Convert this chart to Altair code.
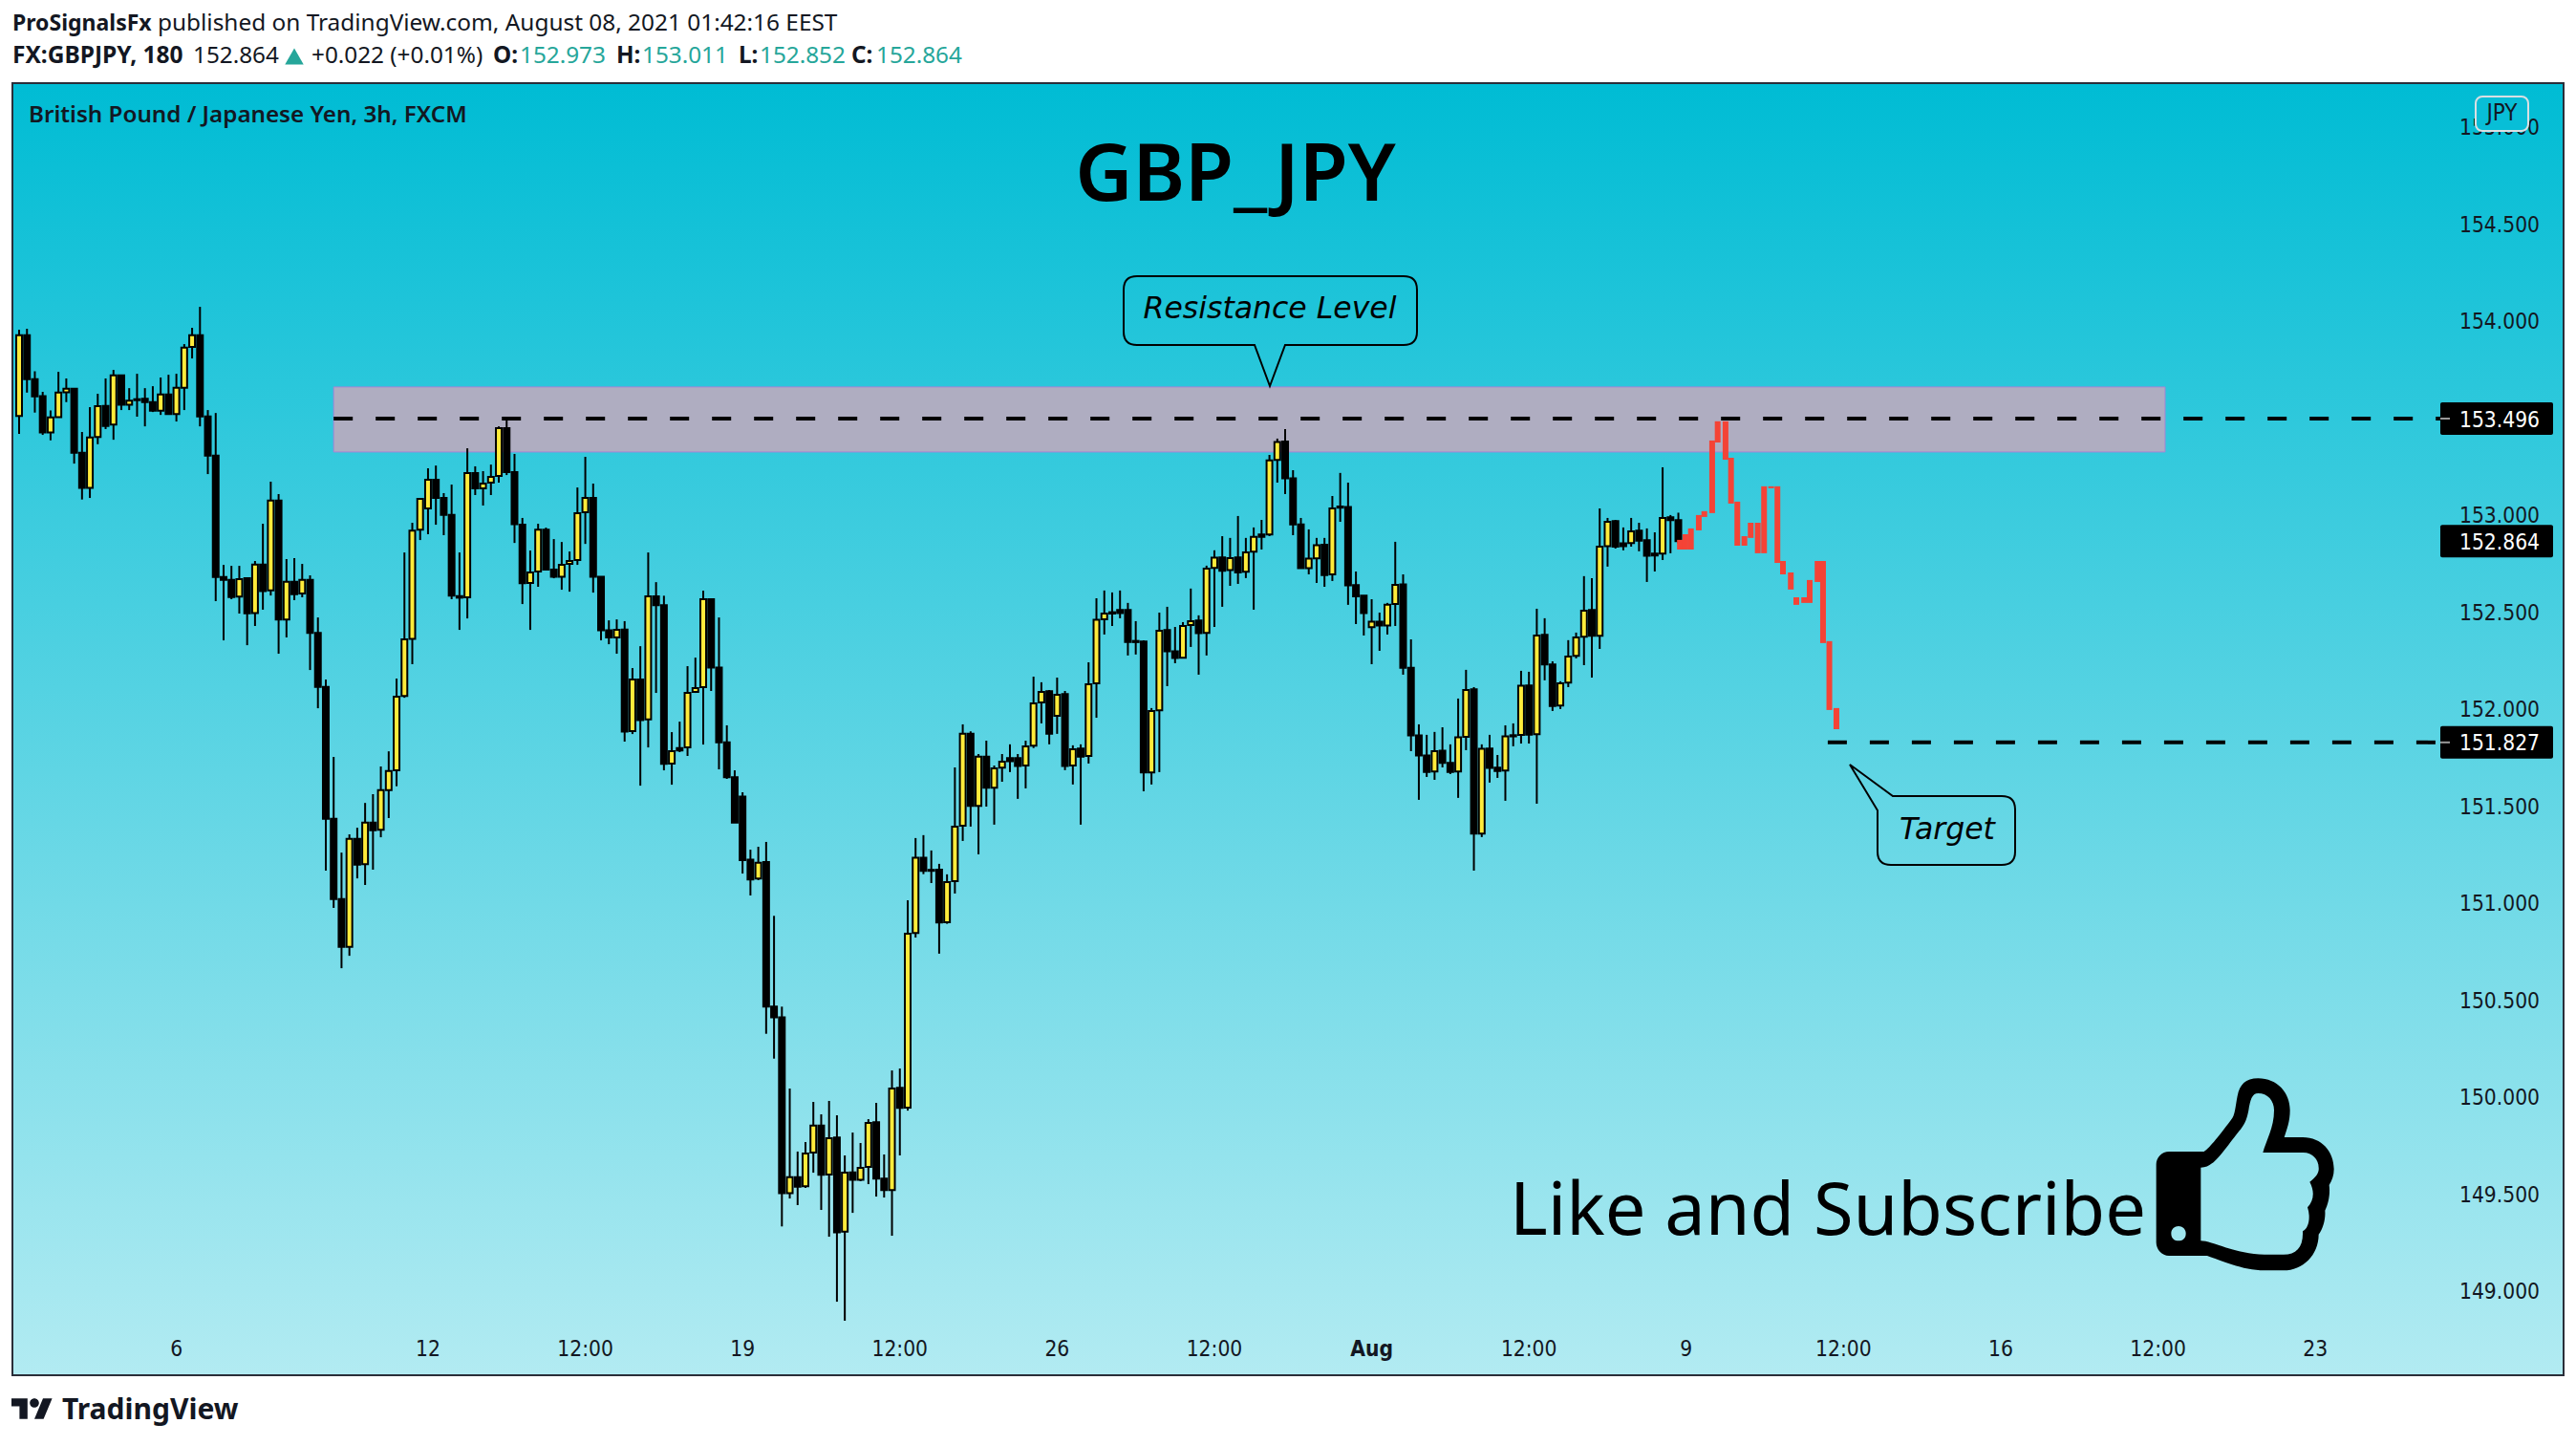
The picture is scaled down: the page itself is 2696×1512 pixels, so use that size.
import re
import altair as alt
import pandas as pd

opens = [
153.509,153.926,153.699,153.612,153.425,153.504,153.632,153.650,153.320,153.139,
153.401,153.561,153.465,153.719,153.568,153.596,153.598,153.581,153.537,153.621,
153.519,153.655,153.865,153.926,153.507,153.305,152.680,152.665,152.578,152.673,
152.494,152.744,152.611,153.074,152.460,152.655,152.594,152.665,152.391,152.113,
151.433,151.020,150.773,151.330,151.199,151.414,151.376,151.581,151.683,152.066,
152.361,152.924,153.033,153.181,153.087,153.000,152.581,152.575,153.215,153.136,
153.166,153.200,153.447,153.220,152.949,152.649,152.708,152.924,152.718,152.681,
152.747,152.767,153.013,153.087,152.681,152.405,152.368,152.409,151.885,152.151,
151.946,152.580,152.534,151.718,151.798,151.801,152.087,152.112,152.565,152.213,
151.827,151.647,151.548,151.223,151.125,151.210,150.465,150.410,149.504,149.586,
149.539,149.713,149.852,149.599,149.790,149.305,149.611,149.573,149.639,149.869,
149.578,149.519,150.046,149.944,150.844,151.232,151.170,151.171,150.900,151.112,
151.398,151.872,151.500,151.754,151.593,151.697,151.746,151.746,151.708,151.810,
152.033,152.091,151.964,152.076,151.708,151.795,151.757,152.132,152.462,152.498,
152.509,152.509,152.350,152.347,151.672,151.992,152.406,152.296,152.263,152.432,
152.455,152.391,152.726,152.780,152.715,152.780,152.707,152.810,152.899,152.899,
153.283,153.378,153.188,152.951,152.725,152.776,152.846,152.693,153.037,153.041,
152.638,152.583,152.421,152.449,152.429,152.541,152.641,152.212,151.863,151.759,
151.677,151.784,151.721,151.677,151.856,152.101,151.357,151.795,151.697,151.682,
151.864,151.866,152.120,151.869,152.381,152.229,152.017,152.135,152.273,152.372,
152.509,152.376,152.839,152.968,152.853,152.854,152.918,152.869,152.800,152.800,
152.987,152.973,
]
closes = [
153.926,153.699,153.611,153.425,153.502,153.630,153.650,153.320,153.139,153.399,
153.560,153.458,153.719,153.568,153.589,153.591,153.581,153.537,153.621,153.519,
153.655,153.862,153.926,153.507,153.305,152.680,152.665,152.576,152.668,152.492,
152.744,152.607,153.074,152.460,152.655,152.591,152.665,152.391,152.113,151.433,
151.020,150.773,151.330,151.197,151.414,151.374,151.581,151.680,152.062,152.358,
152.919,153.082,153.181,153.087,153.000,152.583,152.573,153.215,153.136,153.161,
153.195,153.447,153.220,152.952,152.647,152.703,152.924,152.718,152.681,152.742,
152.762,153.008,153.087,152.681,152.405,152.368,152.407,151.883,152.151,151.942,
152.580,152.534,151.716,151.782,151.785,152.082,152.107,152.565,152.213,151.827,
151.647,151.414,151.220,151.121,151.207,150.465,150.410,149.504,149.586,149.537,
149.708,149.852,149.598,149.787,149.302,149.609,149.573,149.634,149.865,149.578,
149.519,150.043,149.943,150.841,151.232,151.165,151.165,150.899,151.107,151.393,
151.872,151.500,151.753,151.593,151.693,151.728,151.730,151.705,151.807,152.028,
152.087,151.872,152.073,151.705,151.792,151.754,152.127,152.459,152.491,152.491,
152.493,152.345,152.344,151.672,151.989,152.403,152.296,152.262,152.427,152.452,
152.390,152.723,152.779,152.711,152.777,152.703,152.807,152.887,152.887,153.281,
153.375,153.188,152.951,152.725,152.774,152.843,152.690,153.033,153.043,152.636,
152.580,152.493,152.449,152.429,152.537,152.639,152.212,151.863,151.759,151.675,
151.782,151.721,151.675,151.853,152.097,151.357,151.794,151.695,151.680,151.858,
151.858,152.119,151.867,152.378,152.229,152.014,152.132,152.270,152.368,152.506,
152.376,152.836,152.964,152.836,152.838,152.915,152.867,152.789,152.790,152.984,
152.973,152.864,
]
highs = [
153.954,153.959,153.740,153.634,153.538,153.737,153.703,153.650,153.427,153.555,
153.624,153.703,153.747,153.719,153.653,153.727,153.653,153.663,153.708,153.722,
153.727,153.880,153.964,154.072,153.540,153.525,152.742,152.737,152.737,152.673,
152.762,152.954,153.171,153.107,152.772,152.777,152.747,152.688,152.471,152.151,
151.752,151.259,151.353,151.387,151.515,151.560,151.703,151.781,152.156,152.806,
152.959,153.087,153.240,153.254,153.112,153.156,152.806,153.343,153.250,153.225,
153.259,153.456,153.486,153.314,152.984,152.816,152.954,152.934,152.875,152.860,
152.811,153.141,153.299,153.161,152.681,152.456,152.461,152.452,152.210,152.323,
152.806,152.653,152.583,151.880,151.934,152.220,152.264,152.609,152.565,152.471,
151.915,151.683,151.570,151.274,151.289,151.314,150.933,150.465,150.043,149.718,
149.767,149.974,149.910,149.979,149.905,149.698,149.816,149.762,149.885,149.969,
149.703,150.136,150.146,151.013,151.334,151.349,151.270,151.201,151.147,151.698,
151.920,151.884,151.767,151.836,151.708,151.767,151.817,151.767,151.836,152.166,
152.137,152.097,152.161,152.092,151.812,151.817,152.240,152.570,152.610,152.600,
152.610,152.546,152.452,152.353,152.004,152.496,152.526,152.422,152.447,152.620,
152.482,152.738,152.817,152.890,152.881,152.994,152.881,152.935,152.974,153.309,
153.393,153.442,153.230,152.984,152.925,152.881,152.881,153.097,153.216,153.166,
152.708,152.585,152.565,152.496,152.546,152.861,152.693,152.358,151.920,151.866,
151.881,151.905,151.817,152.053,152.201,152.112,151.817,151.866,151.762,151.915,
151.925,152.196,152.191,152.516,152.467,152.245,152.142,152.354,152.393,152.684,
152.674,153.033,152.984,152.974,152.935,152.984,152.959,152.930,152.910,153.245,
152.999,153.011,
]
lows = [
153.417,153.630,153.527,153.412,153.384,153.504,153.581,153.264,153.079,153.087,
153.364,153.442,153.387,153.540,153.540,153.506,153.456,153.530,153.515,153.519,
153.481,153.540,153.806,153.456,153.210,152.555,152.353,152.565,152.491,152.328,
152.427,152.511,152.584,152.284,152.368,152.560,152.575,152.200,152.003,151.166,
150.974,150.663,150.727,151.126,151.092,151.171,151.338,151.437,151.601,152.057,
152.230,152.870,152.900,152.949,152.895,152.565,152.407,152.466,153.102,153.048,
153.102,153.166,153.205,152.855,152.540,152.407,152.629,152.713,152.673,152.614,
152.604,152.742,152.850,152.599,152.353,152.333,152.284,151.831,151.870,151.604,
151.801,152.082,151.683,151.609,151.777,151.757,152.082,151.816,152.092,151.688,
151.639,151.414,151.151,151.038,151.117,150.325,150.197,149.332,149.476,149.442,
149.530,149.609,149.417,149.279,148.944,148.846,149.402,149.565,149.550,149.486,
149.481,149.284,149.698,149.929,150.821,151.148,151.102,150.738,150.892,151.048,
151.319,151.393,151.250,151.496,151.403,151.624,151.674,151.536,151.590,151.798,
151.925,151.817,151.871,151.684,151.610,151.403,151.718,151.954,152.383,152.427,
152.467,152.275,152.280,151.575,151.610,151.674,152.117,152.235,152.319,152.319,
152.176,152.275,152.422,152.526,152.634,152.644,152.674,152.511,152.821,152.890,
153.166,153.107,152.895,152.725,152.693,152.649,152.629,152.659,152.964,152.536,
152.437,152.378,152.230,152.299,152.383,152.427,152.176,151.782,151.531,151.649,
151.634,151.698,151.664,151.541,151.787,151.166,151.339,151.620,151.644,151.526,
151.807,151.821,151.821,151.511,152.147,151.989,151.999,152.112,152.260,152.225,
152.161,152.309,152.733,152.826,152.817,152.836,152.812,152.654,152.708,152.767,
152.802,152.852,
]
red_x = [211.2,211.9,212.6,213.6,214.3,215.3,216.0,217.0,217.7,218.5,219.4,220.2,221.1,
         221.9,222.8,223.6,224.3,225.3,226.0,227.0,227.7,228.7,229.4,230.2,231.1]
red_top = [152.871,152.900,152.930,152.999,153.019,153.383,153.482,153.482,153.294,153.068,
           152.890,152.959,152.959,153.147,153.147,153.147,152.762,152.703,152.575,152.575,
           152.664,152.762,152.762,152.349,152.004]
red_bot = [152.821,152.821,152.821,152.920,152.989,153.009,153.373,153.284,153.058,152.841,
           152.841,152.881,152.802,152.802,153.137,152.752,152.693,152.615,152.536,152.546,
           152.546,152.654,152.339,151.994,151.895]

y_ticks = [149.0,149.5,150.0,150.5,151.0,151.5,152.0,152.5,153.0,153.5,154.0,154.5,155.0]
x_ticks = [20,52,72,92,112,132,152,172,192,212,232,252,272,292]
x_labels = ["6","12","12:00","19","12:00","26","12:00","Aug","12:00","9","12:00","16","12:00","23"]
zone = {"x": [40.0], "x2": [272.9], "top": [153.659], "bot": [153.324]}
line_x = [40.0, 230.0]
line_y = [153.496, 151.827]
line_end = 309.1
price_tags = [153.496, 152.864, 151.827]

W, H = 2670, 1352
X0, Y0 = 13, 87
BAR = 8.23
FX0 = 20
PX = 203.0
INK = "#131722"
HEAD = "Noto Sans"
AX = "DejaVu Sans Condensed"
AXS = 22.6

def xi(px): return (px - FX0) / BAR
def pr(py): return 154 - (py - 335.7) / PX

xs = alt.Scale(domain=[xi(X0), xi(X0 + W)], nice=False, zero=False, padding=0)
ys = alt.Scale(domain=[pr(Y0 + H), pr(Y0)], nice=False, zero=False, padding=0)
def X(f): return alt.X(f, scale=xs, title=None, axis=None)
def Y(f): return alt.Y(f, scale=ys, title=None, axis=None)

one = pd.DataFrame({"a": [1]})
candles = pd.DataFrame({"i": range(len(opens)), "o": opens, "c": closes, "h": highs, "l": lows})
candles["kind"] = ["up" if c > o else "down" for o, c in zip(opens, closes)]
reds = pd.DataFrame({"i": red_x, "t": red_top, "b": red_bot})

bg = alt.Chart(one).mark_rect(
    fill=alt.Gradient(gradient="linear", x1=0, x2=0, y1=0, y2=1,
                      stops=[alt.GradientStop(color="#00BCD4", offset=0),
                             alt.GradientStop(color="#B2EBF2", offset=1)])
).encode(x=alt.value(0), x2=alt.value(W), y=alt.value(0), y2=alt.value(H))

y_tick_df = pd.DataFrame({"p": y_ticks, "t": [f"{v:.3f}" for v in y_ticks]})
y_labels = alt.Chart(y_tick_df).mark_text(font=AX, fontSize=AXS, color=INK, align="right", baseline="middle", dy=1.5).encode(
    x=alt.value(2658 - X0), y=Y("p:Q"), text="t:N")
x_tick_df = pd.DataFrame({"i": x_ticks, "t": x_labels})
x_plain = alt.Chart(x_tick_df[x_tick_df["t"] != "Aug"]).mark_text(
    font=AX, fontSize=AXS, color=INK, align="center", baseline="alphabetic").encode(
    x=X("i:Q"), y=alt.value(1419 - Y0), text="t:N")
x_bold = alt.Chart(x_tick_df[x_tick_df["t"] == "Aug"]).mark_text(
    font=AX, fontSize=AXS, color=INK, fontWeight="bold", align="center", baseline="alphabetic").encode(
    x=X("i:Q"), y=alt.value(1419 - Y0), text="t:N")

zone_l = alt.Chart(pd.DataFrame(zone)).mark_rect(fill="#AFADC1", stroke="#A584D6", strokeWidth=1).encode(
    x=X("x:Q"), x2="x2:Q", y=Y("top:Q"), y2="bot:Q")
wicks = alt.Chart(candles).mark_rule(color="#000000", strokeWidth=2).encode(
    x=X("i:Q"), y=Y("h:Q"), y2="l:Q")
bodies = alt.Chart(candles).mark_bar(size=6, stroke="#000000", strokeWidth=2).encode(
    x=X("i:Q"), y=Y("o:Q"), y2="c:Q",
    fill=alt.Fill("kind:N", legend=None, scale=alt.Scale(domain=["up", "down"], range=["#FFEB3B", "#000000"])))
red = alt.Chart(reds).mark_bar(size=6, color="#F44336").encode(x=X("i:Q"), y=Y("t:Q"), y2="b:Q")

levels = alt.Chart(pd.DataFrame({"x": line_x, "x2": [line_end] * 2, "y": line_y})).mark_rule(
    color="#000000", strokeWidth=4, strokeDash=[20, 24]).encode(x=X("x:Q"), x2="x2:Q", y=Y("y:Q"))

tags = pd.DataFrame({"p": price_tags, "txt": [f"{p:.3f}" for p in price_tags],
                     "x": [xi(2554)] * 3, "x2": [xi(2672)] * 3, "xm": [xi(2616)] * 3})
tags["t"] = tags["p"] + 17 / PX
tags["b"] = tags["p"] - 17 / PX
tag_box = alt.Chart(tags).mark_rect(fill="#000000", cornerRadius=2).encode(
    x=X("x:Q"), x2="x2:Q", y=Y("t:Q"), y2="b:Q")
tag_txt = alt.Chart(tags).mark_text(font=AX, fontSize=AXS, color="#FFFFFF", align="center", baseline="middle", dy=1.5).encode(
    x=X("xm:Q"), y=Y("p:Q"), text="txt:N")
stubs = pd.DataFrame({"y": [153.496, 151.827], "x": [xi(2554)] * 2, "x2": [xi(2564)] * 2})
stub = alt.Chart(stubs).mark_rule(color="#999999", strokeWidth=2).encode(x=X("x:Q"), x2="x2:Q", y=Y("y:Q"))


def text(s, px, py, size, font=HEAD, color=INK, weight="normal", align="left", baseline="alphabetic", style="normal"):
    return alt.Chart(pd.DataFrame({"t": [s]})).mark_text(
        font=font, fontSize=size, color=color, fontWeight=weight, align=align, baseline=baseline, fontStyle=style
    ).encode(x=alt.value(px - X0), y=alt.value(py - Y0), text="t:N")


def symbol(d, to_px, cx, cy, D, **mk):
    def conv(m):
        px, py = to_px(float(m.group(1)), float(m.group(2)))
        return f"{(px - cx) / (D / 2):.4f},{(py - cy) / (D / 2):.4f}"
    path = re.sub(r"(-?[\d.]+),(-?[\d.]+)", conv, d)
    return alt.Chart(one).mark_point(shape=path, size=D * D, opacity=1, **mk).encode(
        x=alt.value(cx - X0), y=alt.value(cy - Y0))


ident = lambda x, y: (x, y)

def bubble(l, t, r, b, rad, tip, p1, p2, first):
    if first == "bottom":
        d = (f"M {l+rad},{t} L {r-rad},{t} Q {r},{t} {r},{t+rad} L {r},{b-rad} Q {r},{b} {r-rad},{b} "
             f"L {p2[0]},{p2[1]} L {tip[0]},{tip[1]} L {p1[0]},{p1[1]} L {l+rad},{b} Q {l},{b} {l},{b-rad} "
             f"L {l},{t+rad} Q {l},{t} {l+rad},{t} Z")
    else:
        d = (f"M {p1[0]},{p1[1]} L {r-rad},{t} Q {r},{t} {r},{t+rad} L {r},{b-rad} Q {r},{b} {r-rad},{b} "
             f"L {l+rad},{b} Q {l},{b} {l},{b-rad} L {p2[0]},{p2[1]} L {tip[0]},{tip[1]} Z")
    cx, cy = (min(l, tip[0]) + max(r, tip[0])) / 2, (min(t, tip[1]) + max(b, tip[1])) / 2
    D = max(max(r, tip[0]) - min(l, tip[0]), max(b, tip[1]) - min(t, tip[1])) + 2
    return symbol(d, ident, cx, cy, D, filled=False, color="#000000", strokeWidth=2)


resist = bubble(1176, 289, 1483, 361, 14, (1329, 404), (1313, 361), (1345, 361), "bottom")
target = bubble(1965, 833, 2109, 905, 14, (1936, 800), (1981, 833), (1965, 848), "left")

thumb_d = ("M 210,315 L 320,315 C 335,305 360,275 405,215 C 418,200 418,175 425,140 C 432,105 450,85 490,85 "
           "C 550,85 590,130 590,185 C 590,220 580,245 572,270 L 630,270 C 690,270 728,315 728,370 "
           "C 728,390 722,405 713,420 C 717,450 710,480 700,500 C 702,525 695,555 680,575 "
           "C 680,640 630,688 570,688 L 510,688 C 440,688 370,655 330,642 L 210,642 "
           "C 188,642 170,622 170,600 L 170,355 C 170,333 188,315 210,315 Z "
           "M 310,365 L 310,595 C 345,595 420,638 510,638 L 570,638 C 610,638 632,615 630,565 "
           "C 650,555 655,520 645,490 C 665,470 668,440 652,410 C 672,395 682,380 680,365 "
           "C 680,340 660,318 632,318 L 505,318 C 515,280 540,240 540,185 C 540,155 520,132 490,132 "
           "C 470,132 465,155 460,185 C 455,210 450,225 435,245 C 415,268 365,340 345,352 "
           "C 335,360 325,365 310,365 Z "
           "M 217,572 C 217,588 228,595 240,595 C 252,595 263,588 263,572 C 263,558 252,549 240,549 "
           "C 228,549 217,558 217,572 Z")
thumb = symbol(thumb_d, lambda x, y: (2200 + x / 3, 1100 + y / 3), 2350, 1228.3, 240,
               filled=True, color="#000000", strokeWidth=0)

logo_d = ("M 14,22 L 7,22 L 7,11 L 0,11 L 0,4 L 14,4 Z M 28,22 L 20,22 L 27.5,4 L 35.5,4 Z "
          "M 16,8 C 16,10.2 17.8,12 20,12 C 22.2,12 24,10.2 24,8 C 24,5.8 22.2,4 20,4 C 17.8,4 16,5.8 16,8 Z")
logo = symbol(logo_d, lambda x, y: (12 + x * 1.2, 1474 + (y - 13) * 1.2), 33.6, 1474, 44,
              filled=True, color="#131722", strokeWidth=0)

jpy_box = alt.Chart(one).mark_rect(fill="#08BED7", stroke="#DADFE3", strokeWidth=2, cornerRadius=7).encode(
    x=alt.value(2591 - X0), x2=alt.value(2646 - X0), y=alt.value(101 - Y0), y2=alt.value(137 - Y0))
frame = alt.Chart(one).mark_rect(fillOpacity=0, stroke="#2A2E39", strokeWidth=2).encode(
    x=alt.value(0), x2=alt.value(W), y=alt.value(0), y2=alt.value(H))
tri = alt.Chart(one).mark_point(shape="triangle-up", filled=True, color="#26A69A", opacity=1, size=380).encode(
    x=alt.value(308 - X0), y=alt.value(59 - Y0))

TEAL = "#26A69A"
SZ = 24.3
layers = [
    bg, y_labels, x_plain, x_bold, zone_l, wicks, bodies, red, tag_box, levels, stub, tag_txt,
    jpy_box,
    text("JPY", 2618.5, 126, 24, font=AX, align="center"),
    resist, target,
    text("Resistance Level", 1329, 333, 31.5, font="DejaVu Sans", align="center", style="italic", color="#000000"),
    text("Target", 2038, 878, 31.5, font="DejaVu Sans", align="center", style="italic", color="#000000"),
    text("GBP_JPY", 1293, 210, 83, weight=600, align="center", color="#000000"),
    text("Like and Subscribe", 1580, 1292, 75.8, color="#000000"),
    thumb,
    text("British Pound / Japanese Yen, 3h, FXCM", 30, 128, 24.2, weight=600),
    text("ProSignalsFx", 13, 32, 23, weight="bold"),
    text("published on TradingView.com, August 08, 2021 01:42:16 EEST", 165, 32, 24.4),
    text("FX:GBPJPY, 180", 13, 66, 24.5, weight="bold"),
    text("152.864", 202, 66, SZ),
    tri,
    text("+0.022 (+0.01%)", 326, 66, SZ),
    text("O:", 516, 66, SZ, weight="bold"), text("152.973", 544, 66, SZ, color=TEAL),
    text("H:", 645, 66, SZ, weight="bold"), text("153.011", 672, 66, SZ, color=TEAL),
    text("L:", 773, 66, SZ, weight="bold"), text("152.852", 795, 66, SZ, color=TEAL),
    text("C:", 891, 66, SZ, weight="bold"), text("152.864", 917, 66, SZ, color=TEAL),
    logo,
    text("TradingView", 65, 1485, 30, weight="bold"),
    frame,
]

chart = alt.layer(*layers).properties(
    width=W, height=H, autosize="none", background="#FFFFFF",
    padding={"left": X0 - 8, "top": Y0 - 8, "right": 5, "bottom": 65},
).configure_view(stroke=None)

chart.save("out.html", embed_options={"renderer": "svg", "actions": False})
